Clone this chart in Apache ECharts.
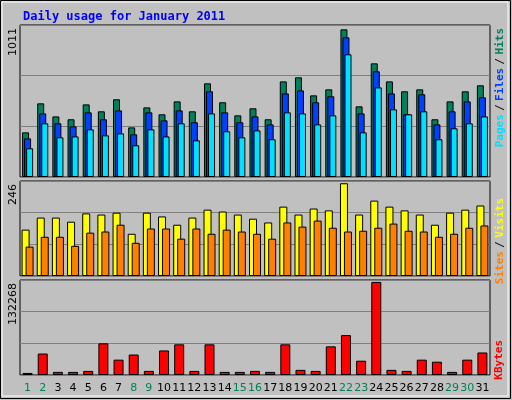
<!DOCTYPE html>
<html><head><meta charset="utf-8">
<script src="https://cdn.jsdelivr.net/npm/echarts@6/dist/echarts.min.js"></script>
<style>html,body{margin:0;padding:0;background:#C0C0C0}#c{width:512px;height:400px}</style>
</head><body><div id="c"></div>
<script>
const days = ['1','2','3','4','5','6','7','8','9','10','11','12','13','14','15','16','17','18','19','20','21','22','23','24','25','26','27','28','29','30','31'];
const weekend = ['1','2','8','9','15','16','22','23','29','30'];
const hits = [297,490,403,384,483,437,517,330,463,417,503,437,623,497,410,457,384,636,663,543,583,982,470,756,636,570,583,384,503,570,610];
const files = [257,423,357,337,430,384,443,284,430,377,443,364,570,430,364,403,350,556,576,497,537,929,423,703,556,417,550,350,437,503,530];
const pages = [191,357,264,270,317,277,290,211,317,270,357,244,423,304,264,310,251,430,423,350,410,816,297,596,450,417,437,251,324,357,403];
const sites = [123,155,155,144,166,163,168,112,168,158,136,155,176,171,163,152,142,184,163,179,174,246,163,200,184,174,163,136,168,176,187];
const visits = [78,104,104,80,115,118,136,88,126,126,99,126,112,123,118,112,99,142,131,147,128,118,120,128,139,120,118,104,112,128,134];
const kbytes = [2900,30500,4400,4400,5800,45000,21800,29100,5800,34900,43600,5800,43600,4400,4400,5800,4400,43600,7300,5800,40700,56700,20300,132268,7300,5800,21800,18900,4400,21800,32000];
const maxLabels = ['1011','246','132268'];

const chart = echarts.init(document.getElementById('c'));
const grids = [{top:25,height:152},{top:181,height:95},{top:280,height:95}];
const bd = {borderColor:'#000',borderWidth:1};
function xa(i,show){return {type:'category',gridIndex:i,data:days,axisTick:{show:false},axisLine:{show:false},
  axisLabel:{show:show,fontFamily:'DejaVu Sans',fontSize:11,margin:8,interval:0,
    color:function(v){return weekend.indexOf(v)>=0?'#00805C':'#000';}}};}
function ya(i,max,interval){return {type:'value',gridIndex:i,min:0,max:max,interval:interval,axisLabel:{show:false},axisLine:{show:false},axisTick:{show:false},splitLine:{show:true,lineStyle:{color:'#808080',width:1}}};}
chart.setOption({
  animation:false,
  backgroundColor:'#C0C0C0',
  title:{text:'Daily usage for January 2011',left:18,top:6,textStyle:{color:'#0000FF',fontFamily:'DejaVu Sans Mono',fontWeight:'bold',fontSize:12}},
  grid:grids.map(g=>({left:20,right:22,top:g.top,height:g.height,show:true,backgroundColor:'#C0C0C0',borderColor:'#000',borderWidth:1})),
  xAxis:[xa(0,false),xa(1,false),xa(2,true)],
  yAxis:[ya(0,1011,337),ya(1,252,84),ya(2,135000,45000)],
  series:[
    {type:'bar',xAxisIndex:0,yAxisIndex:0,data:hits,barWidth:7,barGap:'-71%',itemStyle:Object.assign({color:'#00805C'},bd)},
    {type:'bar',xAxisIndex:0,yAxisIndex:0,data:files,barWidth:7,barGap:'-71%',itemStyle:Object.assign({color:'#0040FF'},bd)},
    {type:'bar',xAxisIndex:0,yAxisIndex:0,data:pages,barWidth:7,barGap:'-71%',itemStyle:Object.assign({color:'#00E0FF'},bd)},
    {type:'bar',xAxisIndex:1,yAxisIndex:1,data:sites,barWidth:8,barGap:'-50%',itemStyle:Object.assign({color:'#FFFF00'},bd)},
    {type:'bar',xAxisIndex:1,yAxisIndex:1,data:visits,barWidth:8,barGap:'-50%',itemStyle:Object.assign({color:'#FF8000'},bd)},
    {type:'bar',xAxisIndex:2,yAxisIndex:2,data:kbytes,barWidth:10,itemStyle:Object.assign({color:'#FF0000'},bd)}
  ],
  graphic:[
    {type:'rect',shape:{x:0.5,y:0.5,width:510,height:398},style:{fill:'none',stroke:'#000',lineWidth:1}},
    {type:'rect',shape:{x:2,y:2,width:506,height:394},style:{fill:'none',stroke:'#fff',lineWidth:1}},
    {type:'text',x:8,y:28,rotation:Math.PI/2,style:{text:maxLabels[0],fontFamily:'DejaVu Sans',fontSize:11,fill:'#000',align:'right',verticalAlign:'top'}},
    {type:'text',x:8,y:184,rotation:Math.PI/2,style:{text:maxLabels[1],fontFamily:'DejaVu Sans',fontSize:11,fill:'#000',align:'right',verticalAlign:'top'}},
    {type:'text',x:8,y:283,rotation:Math.PI/2,style:{text:maxLabels[2],fontFamily:'DejaVu Sans',fontSize:11,fill:'#000',align:'right',verticalAlign:'top'}},
    {type:'text',x:494,y:28,rotation:Math.PI/2,style:{text:'{a|Pages} {s|/} {b|Files} {s|/} {c|Hits}',align:'right',verticalAlign:'top',rich:{
      a:{fill:'#00E0FF',fontFamily:'DejaVu Sans Mono',fontSize:11,fontWeight:'bold'},b:{fill:'#0040FF',fontFamily:'DejaVu Sans Mono',fontSize:11,fontWeight:'bold'},
      c:{fill:'#00805C',fontFamily:'DejaVu Sans Mono',fontSize:11,fontWeight:'bold'},s:{fill:'#000',fontFamily:'DejaVu Sans Mono',fontSize:11}}}},
    {type:'text',x:494,y:198,rotation:Math.PI/2,style:{text:'{a|Sites} {s|/} {b|Visits}',align:'right',verticalAlign:'top',rich:{
      a:{fill:'#FF8000',fontFamily:'DejaVu Sans Mono',fontSize:11,fontWeight:'bold'},b:{fill:'#FFFF00',fontFamily:'DejaVu Sans Mono',fontSize:11,fontWeight:'bold'},
      s:{fill:'#000',fontFamily:'DejaVu Sans Mono',fontSize:11}}}},
    {type:'text',x:494,y:340,rotation:Math.PI/2,style:{text:'KBytes',fill:'#FF0000',fontFamily:'DejaVu Sans Mono',fontSize:11,fontWeight:'bold',align:'right',verticalAlign:'top'}}
  ]
});
</script></body></html>
